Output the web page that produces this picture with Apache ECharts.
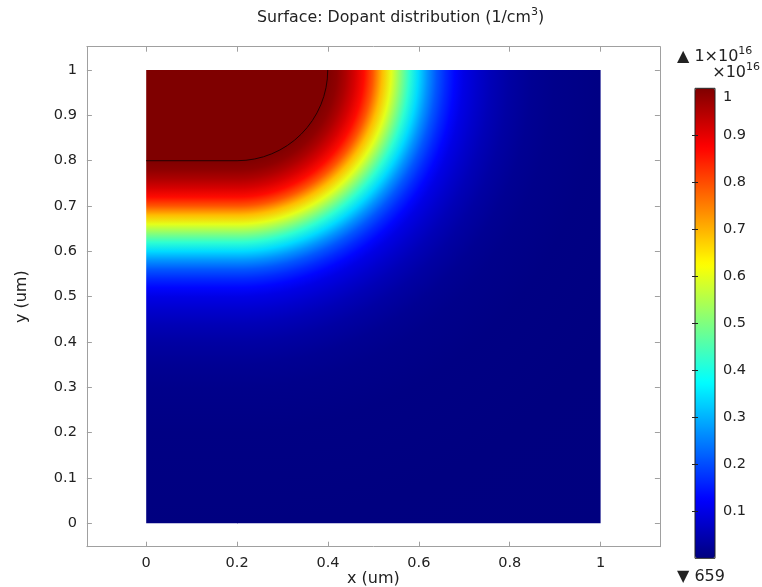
<!DOCTYPE html>
<html><head><meta charset="utf-8">
<script src="https://cdn.jsdelivr.net/npm/echarts@6/dist/echarts.min.js"></script>
<style>html,body{margin:0;padding:0;background:#fff}#c{width:762px;height:587px}</style>
</head><body><div id="c"></div>
<script>
// ---- data ----
const xTicks = [0, 0.2, 0.4, 0.6, 0.8, 1];
const yTicks = [0, 0.1, 0.2, 0.3, 0.4, 0.5, 0.6, 0.7, 0.8, 0.9, 1];
const colorbarTicks = [0.1, 0.2, 0.3, 0.4, 0.5, 0.6, 0.7, 0.8, 0.9];
// jet colormap (value axis 0..1, in units of 1e16 1/cm^3)
const jetColors = ['#00007f', '#0000ff', '#007fff', '#00ffff', '#7fff7f', '#ffff00', '#ff7f00', '#ff0000', '#7f0000'];
// dopant profile: distance (um) from the doped region boundary -> value (x1e16)
const profileDist  = [0, 0.02, 0.04, 0.06, 0.08, 0.10, 0.12, 0.14, 0.16, 0.18, 0.20, 0.22, 0.24, 0.26, 0.28, 0.30, 0.33, 0.36, 0.40, 0.45, 0.50, 0.60, 0.80, 1.10];
const profileValue = [1.00, 0.985, 0.955, 0.915, 0.865, 0.79, 0.69, 0.60, 0.51, 0.42, 0.34, 0.27, 0.21, 0.165, 0.13, 0.10, 0.075, 0.055, 0.035, 0.02, 0.012, 0.005, 0.001, 0.0];
// doped region geometry (um)
const dopedCorner = [0.2, 0.8];
const dopedArcCenter = [0.2, 1.0];
const dopedArcRadius = 0.2;
const domainMax = [1, 1];
const maxLabel = '1×10';
const maxExp = '16';
const minLabel = '659';

const FONT = 'DejaVu Sans';
const TXT = '#222';
const AX = '#a0a0a0';
const chart = echarts.init(document.getElementById('c'), null, {renderer: 'canvas'});

function renderField(params, api) {
  if (params.dataIndex !== 0) return null;
  const n = profileDist.length;
  const cols = profileDist.map((_, k) => api.visual('color', k));
  const dMax = profileDist[n - 1];
  const unit = api.size([1, 1]);
  const cen = api.coord(dopedArcCenter);
  const rOuter = (dopedArcRadius + dMax) * unit[1];
  const radialStops = [{offset: 0, color: cols[0]}].concat(
    profileDist.map((d, k) => ({offset: (dopedArcRadius + d) * unit[1] / rOuter, color: cols[k]})));
  const edgeY = api.coord([0, dopedCorner[1]])[1];
  const farY = api.coord([0, dopedCorner[1] - dMax])[1];
  const linStops = profileDist.map((d, k) => ({offset: d / dMax, color: cols[k]}));
  const p0 = api.coord([0, 0]);
  const pc = api.coord([dopedCorner[0], domainMax[1]]);
  const p1 = api.coord(domainMax);
  const lineStyle = {stroke: '#260000', fill: null, lineWidth: 1};
  return {
    type: 'group',
    children: [
      {type: 'rect', shape: {x: p0[0], y: p1[1], width: pc[0] - p0[0] + 1, height: p0[1] - p1[1]},
       style: {fill: new echarts.graphic.LinearGradient(0, edgeY, 0, farY, linStops, true)}},
      {type: 'rect', shape: {x: pc[0], y: p1[1], width: p1[0] - pc[0], height: p0[1] - p1[1]},
       style: {fill: new echarts.graphic.RadialGradient(cen[0], cen[1], rOuter, radialStops, true)}},
      {type: 'polyline', shape: {points: [api.coord([0, dopedCorner[1]]), api.coord(dopedCorner)]}, style: lineStyle},
      {type: 'arc', shape: {cx: cen[0], cy: cen[1], r: dopedArcRadius * unit[1], startAngle: 0, endAngle: Math.PI / 2, clockwise: true}, style: lineStyle}
    ]
  };
}

const tickStyle = {color: AX, width: 1};
const labelStyle = {color: TXT, fontFamily: FONT, fontSize: 14.5};
const nameStyle = {color: TXT, fontFamily: FONT, fontSize: 16};
const XR = [-0.1305, 1.1305], YR = [-0.0515, 1.0515];
const richSup = (fs) => ({
  m: {fontFamily: FONT, fontSize: fs, color: TXT, fill: TXT, lineHeight: 22},
  s: {fontFamily: FONT, fontSize: Math.round(fs * 0.68), color: TXT, fill: TXT, lineHeight: 12, verticalAlign: 'top'}
});

const option = {
  animation: false,
  backgroundColor: '#fff',
  title: {
    text: '{m|Surface: Dopant distribution (1/cm}{s|3}{m|)}',
    left: 252, top: 1.5,
    textStyle: {fontFamily: FONT, fontSize: 15.8, fontWeight: 'normal', color: TXT, rich: richSup(15.8)}
  },
  grid: [
    {left: 86.9, top: 46.7, width: 573, height: 500, show: false, outerBoundsMode: 'none', containLabel: false},
    {left: 695, top: 88.3, width: 20, height: 470, show: true, borderColor: '#222', borderWidth: 1, backgroundColor: 'transparent', z: 10, outerBoundsMode: 'none', containLabel: false}
  ],
  xAxis: [
    {gridIndex: 0, type: 'value', min: XR[0], max: XR[1], position: 'bottom',
     axisLine: {onZero: false, lineStyle: tickStyle},
     axisTick: {inside: true, length: 5, customValues: xTicks, lineStyle: tickStyle},
     axisLabel: Object.assign({customValues: xTicks, margin: 9}, labelStyle),
     splitLine: {show: false},
     name: 'x (um)', nameLocation: 'middle', nameGap: 24, nameMoveOverlap: false, nameTextStyle: nameStyle},
    {gridIndex: 0, type: 'value', min: XR[0], max: XR[1], position: 'top',
     axisLine: {onZero: false, lineStyle: tickStyle},
     axisTick: {inside: true, length: 5, customValues: xTicks, lineStyle: tickStyle},
     axisLabel: {show: false}, splitLine: {show: false}},
    {gridIndex: 1, type: 'value', min: 0, max: 1, show: false}
  ],
  yAxis: [
    {gridIndex: 0, type: 'value', min: YR[0], max: YR[1], position: 'left',
     axisLine: {onZero: false, lineStyle: tickStyle},
     axisTick: {inside: true, length: 5, customValues: yTicks, lineStyle: tickStyle},
     axisLabel: Object.assign({customValues: yTicks, margin: 10}, labelStyle),
     splitLine: {show: false},
     name: 'y (um)', nameLocation: 'middle', nameGap: 57, nameTextStyle: nameStyle},
    {gridIndex: 0, type: 'value', min: YR[0], max: YR[1], position: 'right',
     axisLine: {onZero: false, lineStyle: tickStyle},
     axisTick: {inside: true, length: 5, customValues: yTicks, lineStyle: tickStyle},
     axisLabel: {show: false}, splitLine: {show: false}},
    {gridIndex: 1, type: 'value', min: 0, max: 1, position: 'right', z: 10,
     axisLine: {show: false},
     axisTick: {inside: true, length: 3, customValues: colorbarTicks, lineStyle: {color: '#222'}},
     axisLabel: Object.assign({customValues: colorbarTicks, margin: 8}, labelStyle),
     splitLine: {show: false}},
    {gridIndex: 1, type: 'value', min: 0, max: 1, position: 'left', z: 10,
     axisLine: {show: false},
     axisTick: {inside: true, length: 3, customValues: colorbarTicks, lineStyle: {color: '#222'}},
     axisLabel: {show: false}, splitLine: {show: false}}
  ],
  visualMap: {
    type: 'continuous', min: 0, max: 1, dimension: 1, seriesIndex: 0,
    inRange: {color: jetColors}, calculable: false, hoverLink: false,
    left: 695, top: 88.3, itemWidth: 20, itemHeight: 470, padding: 0, z: 1
  },
  series: [{
    type: 'custom', xAxisIndex: 0, yAxisIndex: 0,
    data: profileDist.map((d, i) => [d, profileValue[i]]),
    renderItem: renderField, silent: true
  }],
  graphic: [
    {type: 'text', x: 677, y: 57, style: {text: '{m|▲ ' + maxLabel + '}{s|' + maxExp + '}', fill: TXT, font: '16px ' + FONT, verticalAlign: 'middle', align: 'left', rich: richSup(16)}},
    {type: 'text', x: 760, y: 72.5, style: {text: '{m|×10}{s|' + maxExp + '}', fill: TXT, font: '16px ' + FONT, verticalAlign: 'middle', align: 'right', rich: richSup(16)}},
    {type: 'text', x: 723, y: 97, style: {text: '1', fill: TXT, font: '14.5px ' + FONT, verticalAlign: 'middle', align: 'left'}},
    {type: 'text', x: 677, y: 577, style: {text: '▼ ' + minLabel, fill: TXT, font: '16px ' + FONT, verticalAlign: 'middle', align: 'left'}}
  ]
};
chart.setOption(option);
</script></body></html>
